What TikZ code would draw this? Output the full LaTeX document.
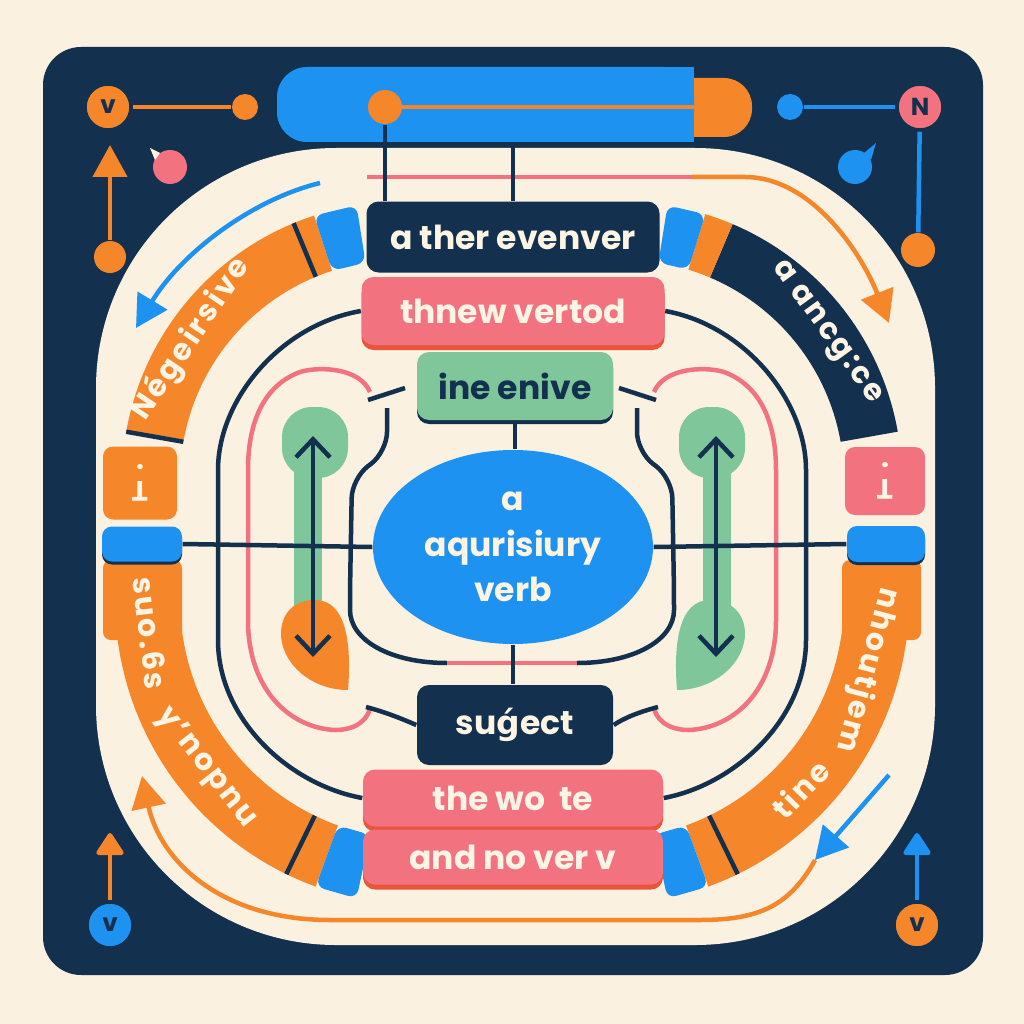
\documentclass[tikz,border=0pt]{standalone}
\usepackage{fontspec}
\setmainfont{Poppins}
\newfontfamily\markfont{DejaVu Sans}
\usepackage{tikz}
\usetikzlibrary{positioning, calc, arrows.meta, shapes.geometric}
\definecolor{dgCream}{HTML}{FBF1E1}
\definecolor{dgNavy}{HTML}{13304E}
\definecolor{dgBlue}{HTML}{1E92F0}
\definecolor{dgOrange}{HTML}{F6862A}
\definecolor{dgPink}{HTML}{F2727F}
\definecolor{dgGreen}{HTML}{7FC69A}
\definecolor{dgText}{HTML}{FDF4E4}
\definecolor{dgShade}{HTML}{E8553A}
\newcommand\boxfont{\bfseries\fontsize{9.4}{13}\selectfont}
\newcommand\bandfont{\bfseries\fontsize{8.6}{9}\selectfont\addfontfeature{LetterSpace=8}}
\newcommand\tackmark{\shortstack{.\\[0.1ex]\rotatebox[origin=c]{180}{T}}}
% ring pieces: centre x, centre y, inner r, outer r, from, to (pixel angles)
\newcommand\ringband[7]{\fill[#1] plot[domain=0:1, samples=40] ({#2+#5*cos(#6+(#7-#6)*\x)}, {#3+#5*sin(#6+(#7-#6)*\x)})
  -- plot[domain=0:1, samples=40] ({#2+#4*cos(#7+(#6-#7)*\x)}, {#3+#4*sin(#7+(#6-#7)*\x)}) -- cycle;}
\newcommand\ringcap[7]{\fill[#1, rounded corners=2.5pt] ({#2+#5*cos(#6)},{#3+#5*sin(#6)}) -- ({#2+#5*cos(#7)},{#3+#5*sin(#7)})
  -- ({#2+#4*cos(#7)},{#3+#4*sin(#7)}) -- ({#2+#4*cos(#6)},{#3+#4*sin(#6)}) -- cycle;}
\newcommand\ringcut[5]{\draw[bandedge] ({#1+#3*cos(#5)},{#2+#3*sin(#5)}) -- ({#1+#4*cos(#5)},{#2+#4*sin(#5)});}
\tikzset{
  wordbox/.style={
    rectangle, rounded corners=1.2mm,
    fill=#1, text=dgText,
    inner sep=0pt, align=center,
    font=\boxfont
  },
  pinkbox/.style={wordbox=dgPink, preaction={fill=dgShade, transform canvas={yshift=-0.5mm}}},
  navybox/.style={wordbox=dgNavy},
  greenbox/.style={wordbox=dgGreen, text=dgNavy, preaction={fill=dgNavy, transform canvas={yshift=-0.4mm}}},
  blob/.style={
    ellipse, fill=dgBlue, text=dgText,
    inner sep=0pt, align=center,
    font=\boxfont
  },
  bandword/.style={text=dgText, font=\bandfont, inner sep=0pt},
  dial/.style={
    circle, fill=#1, draw=dgNavy, line width=0.35mm,
    minimum size=4.6mm, inner sep=0pt,
    text=dgNavy, font=\bfseries\fontsize{7}{8}\selectfont
  },
  dot/.style={circle, fill=#1, minimum size=3mm, inner sep=0pt},
  sideblock/.style={rectangle, rounded corners=1mm, fill=#1, text=dgText, font=\bfseries\fontsize{8}{8}\selectfont, inner sep=0pt},
  wire/.style={line width=0.45mm, dgNavy},
  flow/.style={line width=0.45mm, #1, -{Triangle[length=3.2mm, width=3.4mm]}},
  stub/.style={line width=0.45mm, #1, -{Triangle[round, length=2.4mm, width=3mm]}},
  twoway/.style={
    line width=0.45mm, dgNavy,
    {Straight Barb[length=1.8mm, width=3.4mm]}-{Straight Barb[length=1.8mm, width=3.4mm]}
  },
  bandedge/.style={line width=0.45mm, dgNavy}
}

\begin{document}
\begin{tikzpicture}[x=0.1mm, y=-0.1mm]
  \fill[dgCream] (0,0) rectangle (1024,1024);
  \fill[dgNavy, rounded corners=3.8mm] (43,47) rectangle (983,975);
  \fill[dgCream, rounded corners=24mm] (96,148) rectangle (935,945);

  % top bar
  \fill[dgOrange, rounded corners=2.8mm] (660,78) rectangle (752,137);
  \fill[dgBlue, rounded corners=3mm] (277,67) rectangle (694,142);
  \fill[dgBlue] (650,67) rectangle (694,142);
  \draw[dgOrange, line width=0.45mm] (385,107) -- (694,107);
  \node[dot=dgOrange, minimum size=3.4mm] (bardot) at (385,107) {};
  \coordinate (barmid) at (513,142);

  % corner dials
  \node[dial=dgOrange] (tlv) at (108,107) {v};
  \node[dot=dgOrange, minimum size=2.6mm] (tlend) at (245,107) {};
  \node[dot=dgOrange, minimum size=3.2mm] (tlfoot) at (110,257) {};
  \coordinate (tltip) at (110,145);
  \draw[dgOrange, line width=0.45mm] (tlv) -- (tlend);
  \draw[flow=dgOrange] (tlfoot) -- (tltip);
  \node[dot=dgPink, minimum size=3.4mm] (tlball) at (170,167) {};
  \fill[dgText] (150,148) -- (160,153) -- (155,160) -- cycle;

  \node[dial=dgPink] (trn) at (920,107) {N};
  \node[dot=dgBlue, minimum size=2.6mm] (trend) at (790,107) {};
  \node[dot=dgOrange, minimum size=3.4mm] (trfoot) at (918,250) {};
  \draw[dgBlue, line width=0.45mm] (trend) -- (trn);
  \draw[dgBlue, line width=0.45mm] (trn) -- (trfoot);
  \node[dot=dgBlue, minimum size=3.4mm] (trball) at (855,167) {};
  \fill[dgBlue] (864,153) -- (876,143) -- (871,160) -- cycle;

  \node[dial=dgBlue] (blv) at (110,925) {v};
  \coordinate (bltip) at (110,833);
  \draw[stub=dgOrange] (blv) -- (bltip);
  \node[dial=dgOrange] (brv) at (917,925) {v};
  \coordinate (brtip) at (917,833);
  \draw[stub=dgBlue] (brv) -- (brtip);

  % ring bands
  \ringband{dgOrange}{400}{480}{220}{278}{190}{252}
  \ringcut{400}{480}{220}{278}{247.5}
  \ringcut{400}{480}{220}{278}{190}
  \ringcap{dgBlue}{400}{480}{220}{278}{252}{261}
  \node[bandword, rotate=56] (negword) at (191,339) {Négeirsive};

  \ringband{dgNavy}{624}{480}{220}{278}{293}{350}
  \ringband{dgOrange}{624}{480}{220}{278}{287}{293}
  \ringcap{dgBlue}{624}{480}{220}{278}{279}{287}
  \node[bandword, rotate=-54] (ancword) at (826,333) {a ancg:ce};

  \fill[dgOrange, rounded corners=0.8mm] (103,560) rectangle (182,640);
  \ringband{dgOrange}{420}{600}{240}{305}{187}{110}
  \ringcut{420}{600}{240}{305}{116}
  \ringcap{dgBlue}{420}{600}{240}{305}{110}{102}
  \node[bandword, rotate=-83] (suoword) at (150,633) {suo.6s};
  \node[bandword, rotate=-52] (nopword) at (206,768) {y'nopnu};

  \fill[dgOrange, rounded corners=0.8mm] (842,560) rectangle (921,640);
  \ringband{dgOrange}{604}{600}{240}{305}{-7}{70}
  \ringcut{604}{600}{240}{305}{64}
  \ringcap{dgBlue}{604}{600}{240}{305}{70}{78}
  \node[bandword, rotate=46] (tineword) at (800,789) {tine};
  \node[bandword, rotate=-105] (houtword) at (867,670) {nhoutjem};

  % side blocks
  \node[sideblock=dgOrange, minimum width=7.4mm, minimum height=7.3mm] (lmark) at (140,483) {\tackmark};
  \node[sideblock=dgBlue, minimum width=8mm, minimum height=3.5mm, preaction={fill=dgNavy, transform canvas={yshift=-0.3mm}}] (lplug) at (142,544) {};
  \node[sideblock=dgPink, minimum width=8mm, minimum height=6.8mm] (rmark) at (885,481) {\tackmark};
  \node[sideblock=dgBlue, minimum width=7.8mm, minimum height=3.6mm, preaction={fill=dgNavy, transform canvas={yshift=-0.3mm}}] (rplug) at (886,544) {};

  % flow arrows round the ring
  \coordinate (pinkstart) at (367,177);
  \coordinate (pinkend) at (692,177);
  \coordinate (toptip) at (889,323);
  \draw[dgPink, line width=0.45mm] (pinkstart) -- (pinkend);
  \draw[flow=dgOrange] (pinkend) -- (745,177) .. controls (810,177) and (860,250) .. (toptip);
  \coordinate (bluestart) at (320,183);
  \coordinate (bluetip) at (136,328);
  \draw[flow=dgBlue] (bluestart) .. controls (250,200) and (180,255) .. (bluetip);
  \coordinate (lowstart) at (815,860);
  \coordinate (lowtip) at (142,776);
  \draw[flow=dgOrange] (lowstart) .. controls (790,905) and (760,920) .. (700,920) -- (330,920) .. controls (220,920) and (160,860) .. (lowtip);
  \coordinate (rbluestart) at (889,775);
  \draw[flow=dgBlue] (rbluestart) -- (lowstart);

  % boxes
  \node[navybox, minimum width=29.3mm, minimum height=7.1mm] (topbox) at (513,237) {a ther evenver};
  \node[pinkbox, minimum width=30.3mm, minimum height=6.8mm] (thnew) at (513,311) {thnew vertod};
  \node[greenbox, minimum width=19.6mm, minimum height=6.8mm] (enive) at (515,386) {ine enive};
  \node[blob, minimum width=28mm, minimum height=19.4mm] (verb) at (513,547) {a\\aqurisiury\\verb};
  \node[navybox, minimum width=19.6mm, minimum height=8mm] (subj) at (515,725) {su{\markfont\bfseries ǵ}ect};
  \node[pinkbox, minimum width=30mm, minimum height=5.7mm] (wote) at (513,798) {the wo\ \ te};
  \node[pinkbox, minimum width=30mm, minimum height=5.5mm] (nover) at (513,857) {and no ver v};

  % navy and pink loops
  \draw[wire] (thnew.west) .. controls (280,325) and (218,400) .. (218,470) -- (218,640) .. controls (218,720) and (290,785) .. (wote.west);
  \draw[wire] (thnew.east) .. controls (744,325) and (806,400) .. (806,470) -- (806,640) .. controls (806,720) and (734,785) .. (wote.east);
  \draw[dgPink, line width=0.45mm] (370,392) .. controls (360,368) and (320,366) .. (300,372) .. controls (265,385) and (248,420) .. (248,470) -- (248,620) .. controls (248,690) and (290,728) .. (335,730) .. controls (358,730) and (368,718) .. (370,708);
  \draw[dgPink, line width=0.45mm] (654,392) .. controls (664,368) and (704,366) .. (724,372) .. controls (759,385) and (776,420) .. (776,470) -- (776,620) .. controls (776,690) and (734,728) .. (689,730) .. controls (666,730) and (656,718) .. (654,708);
  \draw[wire] (368,400) -- (405,388);
  \draw[wire] (656,400) -- (619,388);
  \draw[wire] (366,707) .. controls (385,712) and (400,718) .. (subj.west);
  \draw[wire] (658,707) .. controls (639,712) and (624,718) .. (subj.east);
  \draw[wire, rounded corners=2mm] (387,408) -- (387,452) -- (352,478) -- (350,590) .. controls (350,640) and (390,663) .. (447,663);
  \draw[dgPink, line width=0.45mm] (447,663) -- (577,663);
  \draw[wire, rounded corners=2mm] (637,408) -- (637,452) -- (672,478) -- (674,590) .. controls (674,640) and (634,663) .. (577,663);

  % green double arrows
  \fill[dgGreen, rounded corners=3mm] (282,407) rectangle (348,478);
  \fill[dgGreen] (294,470) rectangle (322,612);
  \fill[dgOrange] (315,600) .. controls (345,600) and (352,640) .. (348,690) .. controls (310,690) and (280,662) .. (281,632) .. controls (282,612) and (295,600) .. (315,600) -- cycle;
  \fill[dgGreen, rounded corners=3mm] (679,407) rectangle (745,478);
  \fill[dgGreen] (703,470) rectangle (731,612);
  \fill[dgGreen] (710,600) .. controls (680,600) and (673,640) .. (677,690) .. controls (715,690) and (746,662) .. (745,632) .. controls (744,612) and (730,600) .. (710,600) -- cycle;
  \coordinate (lup) at (313,436);
  \coordinate (ldown) at (313,657);
  \coordinate (rup) at (716,436);
  \coordinate (rdown) at (716,657);
  \draw[twoway] (lup) -- (ldown);
  \draw[twoway] (rup) -- (rdown);

  % connectors between boxes
  \draw[wire] (lplug.east) -- (verb.west);
  \draw[wire] (verb.east) -- (rplug.west);
  \draw[wire] (bardot) -- (bardot |- topbox.north);
  \draw[wire] (barmid) -- (topbox.north);
  \draw[wire] (enive.south) -- (enive.south |- verb.north);
  \draw[wire] (verb.south) -- (verb.south |- subj.north);
\end{tikzpicture}
\end{document}
